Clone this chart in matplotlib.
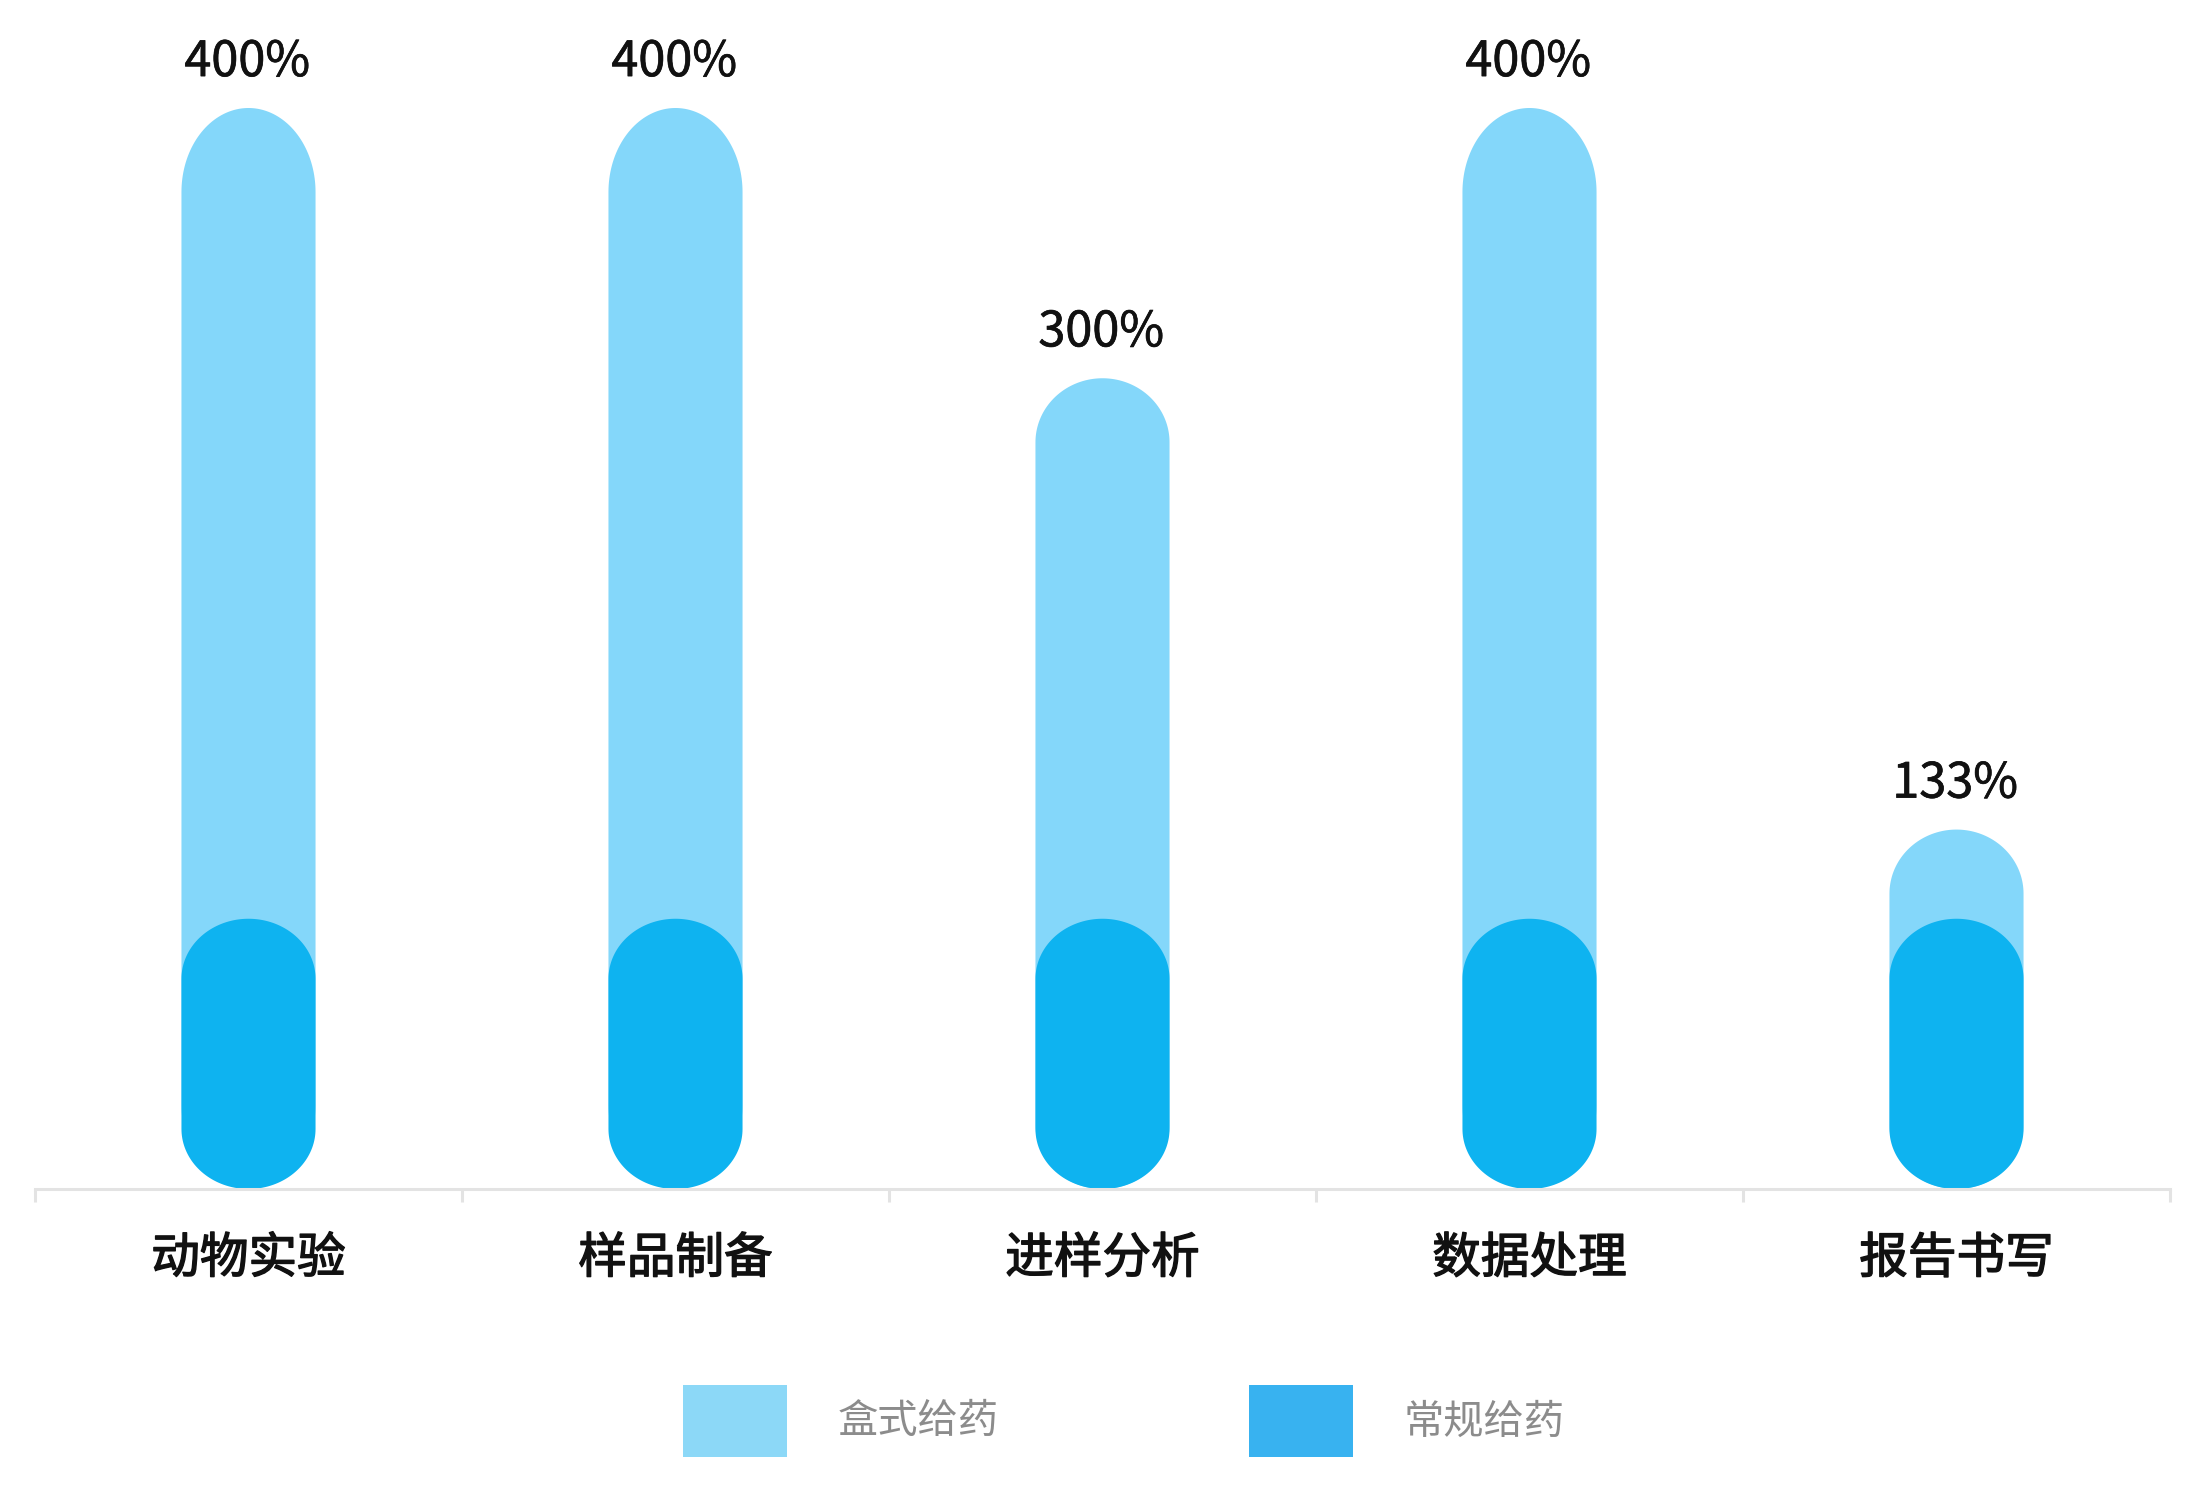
import numpy as np
import matplotlib.pyplot as plt
import matplotlib.patheffects as pe
from matplotlib.patches import Polygon, Patch
from matplotlib.transforms import blended_transform_factory

plt.rcParams['font.family'] = ['Noto Sans CJK SC', 'DejaVu Sans']

# data
categories = ['动物实验', '样品制备', '进样分析', '数据处理', '报告书写']
box_values = [400, 400, 300, 400, 133]       # 盒式给药
normal_values = [100, 100, 100, 100, 100]    # 常规给药
series_names = ['盒式给药', '常规给药']

light = '#84d7fa'
dark = '#0eb3f0'
legend_light = '#8cd8f7'
legend_dark = '#38b2f0'
# cap height (pixels) of the light bars, the tall ones are a bit pointier
light_cap_px = [84, 84, 64, 84, 64]
dark_cap_px = 60

W, H = 2199, 1507
fig = plt.figure(figsize=(W / 100, H / 100), dpi=100)
ax = fig.add_axes([35 / W, 318 / H, 2135 / W, 1081 / H])
ax.set_xlim(-0.5, len(categories) - 0.5)
ax.set_ylim(0, 400)

bar_w = 0.314
px_y = ax.bbox.height / 400   # pixels per % on the y axis
rx = bar_w / 2


def capsule(xc, top, color, cap_px):
    '''bar from 0 to top with half-round ends'''
    ry = cap_px / px_y
    t1 = np.linspace(0, np.pi, 80)
    t2 = np.linspace(np.pi, 2 * np.pi, 80)
    xs = np.concatenate([xc + rx * np.cos(t1), xc + rx * np.cos(t2)])
    ys = np.concatenate([top - ry + ry * np.sin(t1), ry + ry * np.sin(t2)])
    p = Polygon(np.column_stack([xs, ys]), closed=True, fc=color, ec='none',
                lw=0, clip_on=False)
    ax.add_patch(p)


for i, v in enumerate(box_values):
    capsule(i, v, light, light_cap_px[i])
    ax.annotate('{:}%'.format(v), (i, v), xytext=(-1, 23), textcoords='offset points',
                ha='center', va='baseline', fontsize=35, color='#111111',
                path_effects=[pe.withStroke(linewidth=0.5, foreground='#111111')])
for i, v in enumerate(normal_values):
    capsule(i, v, dark, dark_cap_px)

# axis
for s in ['top', 'left', 'right']:
    ax.spines[s].set_visible(False)
ax.spines['bottom'].set_color('#e3e3e3')
ax.spines['bottom'].set_linewidth(2.2)
ax.set_yticks([])
ax.set_xticks(np.arange(-0.5, len(categories)))
ax.set_xticklabels([])
ax.tick_params(axis='x', length=9, width=2.2, color='#e3e3e3', direction='out')

# medium-ish weight: regular face with a thin outline
tr = blended_transform_factory(ax.transData, fig.transFigure)
for i, c in enumerate(categories):
    ax.text(i, (H - 1259) / H, c, transform=tr, ha='center', va='center',
            fontsize=35, color='#111111',
            path_effects=[pe.withStroke(linewidth=1.0, foreground='#111111')])

handles = [Patch(fc=legend_light, ec='none'), Patch(fc=legend_dark, ec='none')]
fig.legend(handles, series_names, loc='center', bbox_to_anchor=(1124 / W, 86 / H),
           ncol=2, frameon=False, fontsize=29, labelcolor='#8c8c8c',
           handlelength=2.58, handleheight=2.41, handletextpad=1.27,
           columnspacing=6.2, borderpad=0)

plt.savefig('out.png', dpi=100, facecolor='white')
